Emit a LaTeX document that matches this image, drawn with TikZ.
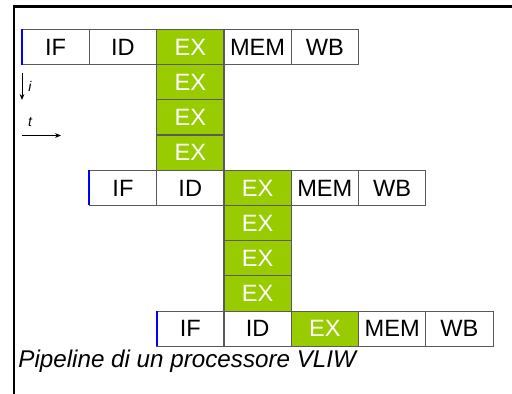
\documentclass[tikz,border=0pt]{standalone}
\usepackage{fontspec}
\setmainfont{Liberation Sans}
\usetikzlibrary{positioning,arrows.meta}

\definecolor{exgreen}{RGB}{153,204,0}
\definecolor{cellgray}{RGB}{90,90,90}

\tikzset{
	stage/.style={draw=cellgray, line width=0.6pt, minimum width=33.65pt, minimum height=17.6pt,
		inner sep=0pt, outer sep=0pt, font=\fontsize{11.8}{12}\selectfont},
	exstage/.style={stage, fill=exgreen, text=white},
	start/.style={blue, line width=0.9pt},
	axis/.style={line width=0.4pt, -{Stealth[length=3pt,width=2.4pt]}},
}

\begin{document}
\begin{tikzpicture}[x=0.5pt, y=-0.5pt, node distance=0pt]
	\useasboundingbox (0,0) rectangle (512,394);
	\draw[line width=1.2pt] (14,394) -- (14,6.5) -- (512,6.5);

	% first instruction
	\node [stage, anchor=north west] (if1) at (22,29.5) {IF};
	\node [stage, right=of if1] (id1) {ID};
	\node [exstage, right=of id1] (ex1) {EX};
	\node [stage, right=of ex1] (mem1) {MEM};
	\node [stage, right=of mem1] (wb1) {WB};
	\node [exstage, below=of ex1] (ex1b) {EX};
	\node [exstage, below=of ex1b] (ex1c) {EX};
	\node [exstage, below=of ex1c] (ex1d) {EX};

	% second instruction
	\node [stage, below=of ex1d] (id2) {ID};
	\node [stage, left=of id2] (if2) {IF};
	\node [exstage, right=of id2] (ex2) {EX};
	\node [stage, right=of ex2] (mem2) {MEM};
	\node [stage, right=of mem2] (wb2) {WB};
	\node [exstage, below=of ex2] (ex2b) {EX};
	\node [exstage, below=of ex2b] (ex2c) {EX};
	\node [exstage, below=of ex2c] (ex2d) {EX};

	% third instruction
	\node [stage, below=of ex2d] (id3) {ID};
	\node [stage, left=of id3] (if3) {IF};
	\node [exstage, right=of id3] (ex3) {EX};
	\node [stage, right=of ex3] (mem3) {MEM};
	\node [stage, right=of mem3] (wb3) {WB};

	\draw [start] (if1.north west) -- (if1.south west);
	\draw [start] (if2.north west) -- (if2.south west);
	\draw [start] (if3.north west) -- (if3.south west);

	% axes
	\coordinate (itop) at (22,73);
	\coordinate (ibot) at (22,100);
	\coordinate (tleft) at (22,135.5);
	\coordinate (tright) at (61,135.5);
	\draw [axis] (itop) -- (ibot);
	\draw [axis] (tleft) -- (tright);
	\node [font=\fontsize{7}{8}\selectfont\itshape] (ilab) at (30,86) {i};
	\node [font=\fontsize{7}{8}\selectfont\itshape] (tlab) at (30,122) {t};

	\node [anchor=west, inner sep=0pt, font=\fontsize{12.1}{13}\selectfont\itshape] (cap) at (18,361) {Pipeline di un processore VLIW};
\end{tikzpicture}
\end{document}
